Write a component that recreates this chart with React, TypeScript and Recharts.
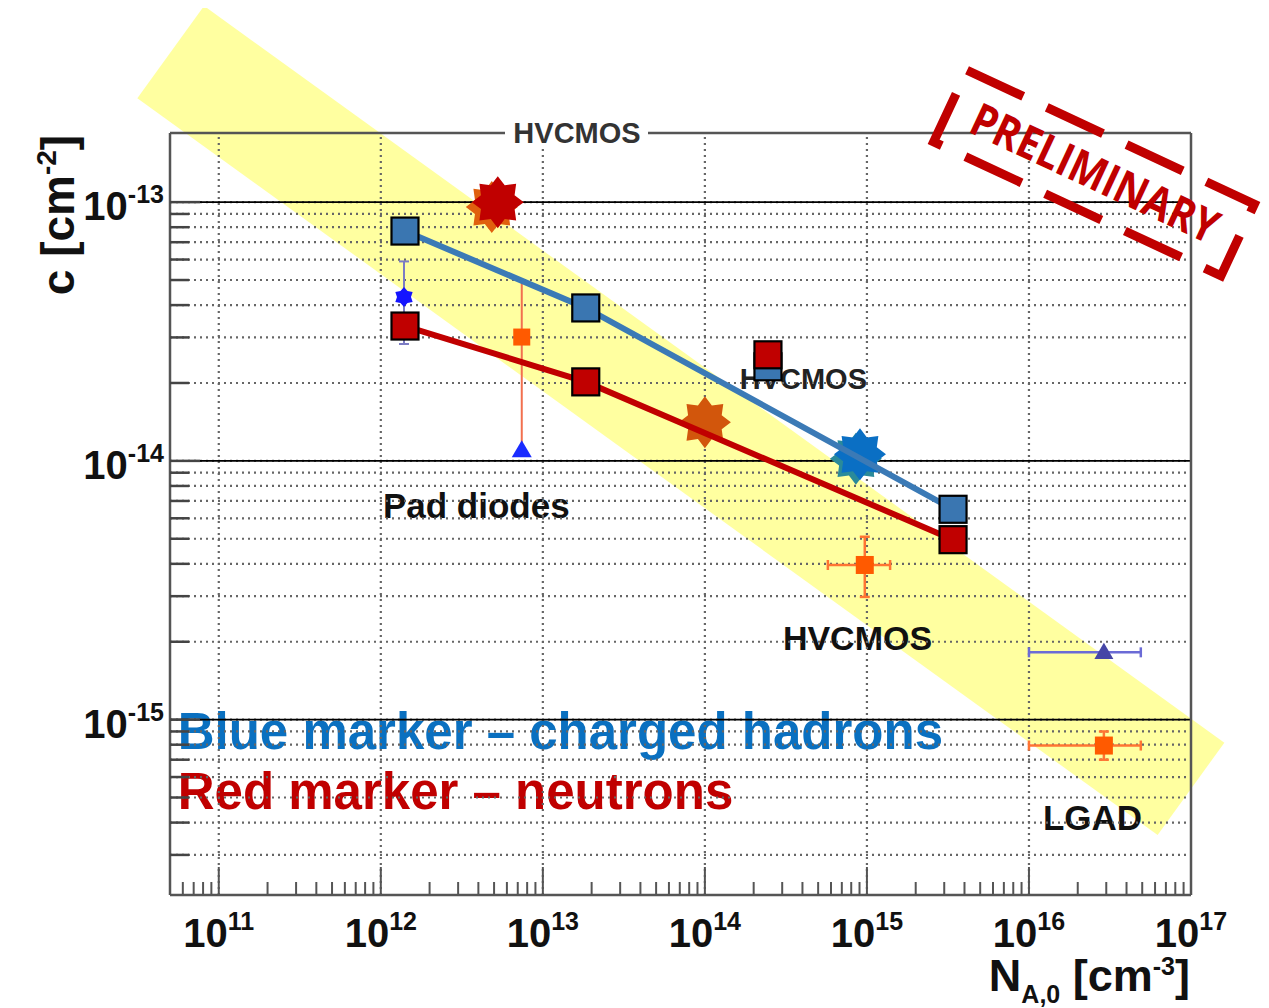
import {
  ScatterChart,
  Scatter,
  XAxis,
  YAxis,
  CartesianGrid,
  ReferenceLine,
  ErrorBar,
} from "recharts";

// axis ranges
const X_MIN = 5e10;
const X_MAX = 1e17;
const Y_MIN = 2.1e-16;
const Y_MAX = 1.85e-13;

// decades that carry labels
const xDecades = [11, 12, 13, 14, 15, 16, 17];
const yDecades = [-15, -14, -13];

// charged hadrons: blue squares joined by a line
const hadronX = [1.41e12, 1.84e13, 3.4e15];
const hadronC = [7.73e-14, 3.9e-14, 6.5e-15];

// neutrons: red squares joined by a line
const neutronX = [1.41e12, 1.84e13, 3.4e15];
const neutronC = [3.32e-14, 2.02e-14, 4.96e-15];

// HVCMOS square pair
const hvPairX = [2.45e14];
const hvBlueC = [2.31e-14];
const hvRedC = [2.57e-14];

// big stars (the first and fourth peek out from under their neighbours)
const starX = [4.84e12, 5.27e12, 1.0e14, 8.55e14, 9.06e14];
const starC = [9.57e-14, 1.0e-13, 1.41e-14, 1.02e-14, 1.06e-14];
const starColor = ["#e0600e", "#c00000", "#d2560c", "#2a8a9a", "#0a6fc4"];

// pad diode points with errors
const padStarX = [1.39e12];
const padStarC = [4.3e-14];
const padStarLo = [2.83e-14];
const padStarHi = [5.9e-14];

const padSqX = [7.41e12];
const padSqC = [3.01e-14];
const padSqLo = [1.12e-14];
const padSqHi = [4.95e-14];

const padTriX = [7.41e12];
const padTriC = [1.1e-14];

// HVCMOS point with errors
const hvX = [9.7e14];
const hvXLo = [5.74e14];
const hvXHi = [1.39e15];
const hvC = [3.96e-15];
const hvCLo = [2.98e-15];
const hvCHi = [5.09e-15];

// LGAD points
const lgadX = [2.9e16];
const lgadXLo = [1e16];
const lgadXHi = [4.9e16];
const lgadTriC = [1.82e-15];
const lgadSqC = [7.94e-16];
const lgadSqLo = [7.0e-16];
const lgadSqHi = [9.0e-16];

// guide band along the trend
const bandX = [5.05e10, 1e17];
const bandC = [3.8e-13, 5.4e-16];

// text placed inside the frame
const notes = [
  { x: 1.64e14, y: 2.07e-14, text: "HVCMOS", size: 29, color: "#222" },
  { x: 1.03e12, y: 6.7e-15, text: "Pad diodes", size: 35, color: "#111" },
  { x: 3.03e14, y: 2.06e-15, text: "HVCMOS", size: 34, color: "#111" },
  { x: 1.22e16, y: 4.2e-16, text: "LGAD", size: 35, color: "#111" },
  { x: 5.58e10, y: 9.0e-16, text: "Blue marker \u2013 charged hadrons", size: 51, color: "#0a70c0" },
  { x: 5.58e10, y: 5.27e-16, text: "Red marker \u2013 neutrons", size: 51, color: "#c00000" },
];

const W = 1261;
const H = 1000;
const MARGIN = { top: 125, right: 78, bottom: 33, left: 62 };
const Y_AXIS_W = 100;
const X_AXIS_H = 80;
const PLOT_LEFT = MARGIN.left + Y_AXIS_W;
const PLOT_BOTTOM = H - MARGIN.bottom - X_AXIS_H;
const FONT = "'Liberation Sans', Arial, Helvetica, sans-serif";

const xTicks: number[] = [];
for (let e = 10; e <= 16; e++) {
  for (let k = 1; k <= 9; k++) {
    const v = k * Math.pow(10, e);
    if (v >= X_MIN && v <= X_MAX) xTicks.push(v);
  }
}
xTicks.push(X_MAX);

const yTicks: number[] = [];
for (let e = -16; e <= -13; e++) {
  for (let k = 1; k <= 9; k++) {
    const v = k * Math.pow(10, e);
    if (v >= Y_MIN && v <= Y_MAX) yTicks.push(v);
  }
}

const isDecade = (v: number) => {
  const l = Math.log10(v);
  return Math.abs(l - Math.round(l)) < 1e-9;
};

const pts = (xs: number[], ys: number[]) => xs.map((x, i) => ({ x, y: ys[i] }));

const hadrons = pts(hadronX, hadronC);
const neutrons = pts(neutronX, neutronC);
const hvBlue = pts(hvPairX, hvBlueC);
const hvRed = pts(hvPairX, hvRedC);
const stars = starX.map((x, i) => ({ x, y: starC[i], color: starColor[i] }));
const padStar = padStarX.map((x, i) => ({
  x,
  y: padStarC[i],
  ey: [padStarC[i] - padStarLo[i], padStarHi[i] - padStarC[i]],
}));
const padSq = padSqX.map((x, i) => ({
  x,
  y: padSqC[i],
  ey: [padSqC[i] - padSqLo[i], padSqHi[i] - padSqC[i]],
}));
const padTri = pts(padTriX, padTriC);
const hvPoint = hvX.map((x, i) => ({
  x,
  y: hvC[i],
  ex: [x - hvXLo[i], hvXHi[i] - x],
  ey: [hvC[i] - hvCLo[i], hvCHi[i] - hvC[i]],
}));
const lgadTri = lgadX.map((x, i) => ({ x, y: lgadTriC[i], ex: [x - lgadXLo[i], lgadXHi[i] - x] }));
const lgadSq = lgadX.map((x, i) => ({
  x,
  y: lgadSqC[i],
  ex: [x - lgadXLo[i], lgadXHi[i] - x],
  ey: [lgadSqC[i] - lgadSqLo[i], lgadSqHi[i] - lgadSqC[i]],
}));

const square = (size: number, fill: string, stroke = "none", sw = 0) => (p: any) => (
  <rect x={p.cx - size / 2} y={p.cy - size / 2} width={size} height={size} fill={fill} stroke={stroke} strokeWidth={sw} />
);

const starPath = (cx: number, cy: number, n: number, R: number, r: number) => {
  const out: string[] = [];
  for (let i = 0; i < n * 2; i++) {
    const a = -Math.PI / 2 + (i * Math.PI) / n;
    const rad = i % 2 === 0 ? R : r;
    out.push(`${cx + rad * Math.cos(a)},${cy + rad * Math.sin(a)}`);
  }
  return out.join(" ");
};

const star = (R: number, n: number, color?: string) => (p: any) => (
  <polygon points={starPath(p.cx, p.cy, n, R, R * 0.7)} fill={color ?? p.payload.color} />
);

const triangle = (w: number, color: string) => (p: any) => (
  <polygon
    points={`${p.cx},${p.cy - w * 0.5} ${p.cx + w / 2},${p.cy + w * 0.35} ${p.cx - w / 2},${p.cy + w * 0.35}`}
    fill={color}
  />
);

const note = (p: any) => (
  <text
    x={p.cx}
    y={p.cy}
    dominantBaseline="central"
    fontFamily={FONT}
    fontWeight="bold"
    fontSize={p.payload.size}
    fill={p.payload.color}
  >
    {p.payload.text}
  </text>
);

const XTick = (props: any) => {
  const { x, payload } = props;
  const v = payload.value;
  const major = isDecade(v);
  return (
    <g>
      <line x1={x} x2={x} y1={PLOT_BOTTOM} y2={PLOT_BOTTOM - (major ? 28 : 13)} stroke="#555" strokeWidth={2} />
      {major && (
        <text x={x} y={PLOT_BOTTOM + 52} textAnchor="middle" fontFamily={FONT} fontWeight="bold" fontSize={40} fill="#111">
          10
          <tspan dy={-17} fontSize={25}>
            {Math.round(Math.log10(v))}
          </tspan>
        </text>
      )}
    </g>
  );
};

const YTick = (props: any) => {
  const { y, payload } = props;
  const v = payload.value;
  const major = isDecade(v);
  return (
    <g>
      <line x1={PLOT_LEFT} x2={PLOT_LEFT + (major ? 30 : 19)} y1={y} y2={y} stroke="#444" strokeWidth={2.5} />
      {major && (
        <text x={PLOT_LEFT - 6} y={y + 18} textAnchor="end" fontFamily={FONT} fontWeight="bold" fontSize={40} fill="#111">
          10
          <tspan dy={-17} fontSize={25}>
            {Math.round(Math.log10(v))}
          </tspan>
        </text>
      )}
    </g>
  );
};

export default function App() {
  return (
    <div style={{ position: "relative", width: W, height: H, background: "#fff" }}>
      <ScatterChart width={W} height={H} margin={MARGIN}>
        <ReferenceLine
          segment={[
            { x: bandX[0], y: bandC[0] },
            { x: bandX[1], y: bandC[1] },
          ]}
          ifOverflow="visible"
          stroke="#ffffa0"
          strokeWidth={114}
          zIndex={-300}
        />
        <Scatter data={notes} shape={note} isAnimationActive={false} zIndex={-200} />
        <CartesianGrid vertical={false} stroke="#666" strokeDasharray="2 4" strokeWidth={2.2} />
        <XAxis
          type="number"
          dataKey="x"
          scale="log"
          domain={[X_MIN, X_MAX]}
          allowDataOverflow
          ticks={xTicks}
          interval={0}
          tick={XTick}
          tickLine={false}
          axisLine={{ stroke: "#555", strokeWidth: 2.5 }}
          height={X_AXIS_H}
        />
        <YAxis
          type="number"
          dataKey="y"
          scale="log"
          domain={[Y_MIN, Y_MAX]}
          allowDataOverflow
          ticks={yTicks}
          interval={0}
          tick={YTick}
          tickLine={false}
          axisLine={{ stroke: "#555", strokeWidth: 2.5 }}
          width={Y_AXIS_W}
        />
        {xDecades.slice(0, -1).map((e) => (
          <ReferenceLine key={`vx${e}`} x={Math.pow(10, e)} stroke="#666" strokeDasharray="2 4" strokeWidth={2.2} />
        ))}
        {yDecades.map((e) => (
          <ReferenceLine key={`hy${e}`} y={Math.pow(10, e)} stroke="#000" strokeWidth={1.8} />
        ))}
        <ReferenceLine x={X_MAX} stroke="#555" strokeWidth={2.5} />
        <ReferenceLine y={Y_MAX} stroke="#555" strokeWidth={2.5} />

        <Scatter data={padStar} shape={star(10, 6, "#1414ff")} isAnimationActive={false}>
          <ErrorBar dataKey="ey" direction="y" width={5} stroke="#7c7cc4" strokeWidth={2} />
        </Scatter>
        <Scatter data={padSq} shape={square(17, "#ff5a00")} isAnimationActive={false}>
          <ErrorBar dataKey="ey" direction="y" width={0} stroke="#f2704f" strokeWidth={2} />
        </Scatter>
        <Scatter data={padTri} shape={triangle(20, "#1a2cff")} isAnimationActive={false} />
        <Scatter data={hvPoint} shape={square(18, "#ff5a00")} isAnimationActive={false}>
          <ErrorBar dataKey="ex" direction="x" width={5} stroke="#ff7433" strokeWidth={2.5} />
          <ErrorBar dataKey="ey" direction="y" width={5} stroke="#ff7433" strokeWidth={2.5} />
        </Scatter>
        <Scatter data={lgadTri} shape={triangle(19, "#4646a6")} isAnimationActive={false}>
          <ErrorBar dataKey="ex" direction="x" width={5} stroke="#6b6bd6" strokeWidth={2.5} />
        </Scatter>
        <Scatter data={lgadSq} shape={square(18, "#ff5a00")} isAnimationActive={false}>
          <ErrorBar dataKey="ex" direction="x" width={5} stroke="#ff7433" strokeWidth={2.5} />
          <ErrorBar dataKey="ey" direction="y" width={5} stroke="#ff7433" strokeWidth={2.5} />
        </Scatter>

        <Scatter data={stars} shape={star(26, 8)} isAnimationActive={false} />

        <Scatter
          data={hadrons}
          line={{ stroke: "#3b7ab6", strokeWidth: 6 }}
          lineType="joint"
          shape={square(27, "#3a76b1", "#000", 2.2)}
          isAnimationActive={false}
        />
        <Scatter
          data={neutrons}
          line={{ stroke: "#c00000", strokeWidth: 6 }}
          lineType="joint"
          shape={square(27, "#c00000", "#000", 2.2)}
          isAnimationActive={false}
        />
        <Scatter data={hvBlue} shape={square(27, "#3a76b1", "#000", 2.2)} isAnimationActive={false} />
        <Scatter data={hvRed} shape={square(27, "#c00000", "#000", 2.2)} isAnimationActive={false} />
      </ScatterChart>

      <svg width={W} height={H} style={{ position: "absolute", left: 0, top: 0, pointerEvents: "none" }}>
        {/* label sitting on the top frame */}
        <rect x={497} y={112} width={143} height={26} fill="#fff" />
        <text x={569} y={125} textAnchor="middle" dominantBaseline="central" fontFamily={FONT} fontWeight="bold" fontSize={29} fill="#333">
          HVCMOS
        </text>

        {/* axis titles */}
        <text
          transform="translate(66,207) rotate(-90)"
          textAnchor="middle"
          fontFamily={FONT}
          fontWeight="bold"
          fontSize={46}
          fill="#111"
        >
          c [cm
          <tspan dy={-18} fontSize={28}>
            -2
          </tspan>
          <tspan dy={18}>]</tspan>
        </text>
        <text x={1182} y={983} textAnchor="end" fontFamily={FONT} fontWeight="bold" fontSize={45} fill="#111">
          N
          <tspan dy={12} fontSize={25}>
            A,0
          </tspan>
          <tspan dy={-12}> [cm</tspan>
          <tspan dy={-16} fontSize={25}>
            -3
          </tspan>
          <tspan dy={16}>]</tspan>
        </text>

        {/* preliminary stamp */}
        <g transform="translate(1086,165) rotate(25)">
          <rect
            x={-158.5}
            y={-39.5}
            width={317}
            height={79}
            fill="none"
            stroke="#c00000"
            strokeWidth={9}
            strokeDasharray="62 26"
          />
          <text
            x={1}
            y={16}
            textAnchor="middle"
            fontFamily="'Open Sans', sans-serif"
            fontWeight={700}
            fontSize={46}
            fill="#c00000"
            textLength={268}
            lengthAdjust="spacingAndGlyphs"
          >
            PRELIMINARY
          </text>
        </g>
      </svg>
    </div>
  );
}
